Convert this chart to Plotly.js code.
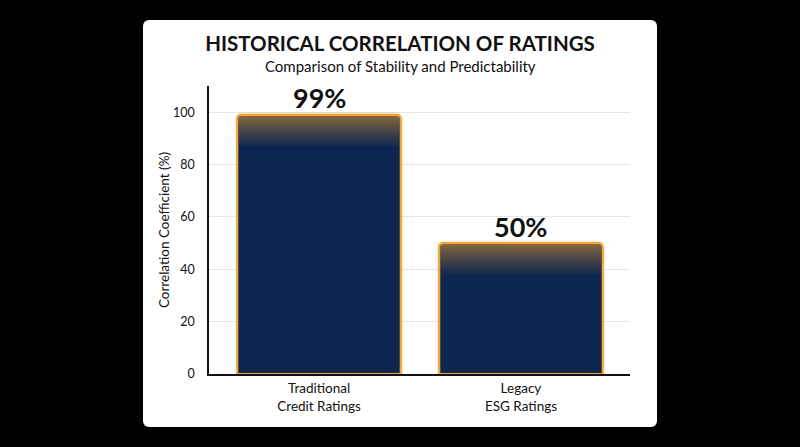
<!DOCTYPE html>
<html>
<head>
<meta charset="utf-8">
<script src="https://cdn.plot.ly/plotly-3.0.1.min.js"></script>
<style>
  html, body { margin: 0; padding: 0; background: #000; }
  #wrap { position: relative; width: 800px; height: 447px; background: #000; overflow: hidden; }
  #card { position: absolute; left: 143px; top: 20px; width: 514px; height: 407px; background: #fff; border-radius: 6px; }
  #chart { position: absolute; left: 0; top: 0; width: 800px; height: 447px; }
</style>
</head>
<body>
<div id="wrap">
  <div id="card"></div>
  <div id="chart"></div>
</div>
<script>
// Werte
const kategorien = ["Traditional<br>Credit Ratings", "Legacy<br>ESG Ratings"];
const werte = [99, 50];
const beschriftungen = ["99%", "50%"];
const yTicks = [0, 20, 40, 60, 80, 100];

const balkenBreite = 0.81;
const navy = "#0c274f";
const orange = "#f2a33a";
const font = "Lato, 'Open Sans', sans-serif";
const xPos = werte.map((_, i) => i);

// äußerer weicher Schein
const schein = {
  type: "bar",
  x: xPos,
  y: werte,
  width: balkenBreite,
  marker: {
    color: "rgba(0,0,0,0)",
    line: { color: "rgba(242,163,58,0.18)", width: 5 },
    cornerradius: 5,
  },
  hoverinfo: "skip",
  showlegend: false,
};

const balken = {
  type: "bar",
  x: xPos,
  y: werte,
  width: balkenBreite,
  marker: {
    color: navy,
    line: { color: orange, width: 2.2 },
    cornerradius: 4,
  },
  hoverinfo: "x+y",
  showlegend: false,
};

// oranger Verlauf oben im Balken
const verlauf = werte.map((v, i) => {
  const x0 = i - balkenBreite / 2 + 0.006;
  const x1 = i + balkenBreite / 2 - 0.006;
  const oben = v - 0.45;
  const unten = v - 12.5;
  return {
    type: "scatter",
    x: [x0, x1, x1, x0, x0],
    y: [unten, unten, oben, oben, unten],
    mode: "none",
    fill: "toself",
    fillgradient: {
      type: "vertical",
      start: unten,
      stop: oben,
      colorscale: [
        [0, "rgba(215,145,50,0)"],
        [0.5, "rgba(215,145,50,0.27)"],
        [1, "rgba(220,148,50,0.58)"],
      ],
    },
    hoverinfo: "skip",
    showlegend: false,
  };
});

// Wertbeschriftungen über den Balken
const wertLabels = werte.map((v, i) => ({
  text: "<b>" + beschriftungen[i] + "</b>",
  x: i,
  y: v,
  xref: "x",
  yref: "y",
  yanchor: "middle",
  yshift: 17,
  showarrow: false,
  font: { family: font, size: 27, color: "#111" },
}));

const layout = {
  width: 800,
  height: 447,
  title: {
    text: "<b>HISTORICAL CORRELATION OF RATINGS</b>",
    font: { family: font, size: 20.5, color: "#111" },
    x: 0.5,
    xanchor: "center",
    y: 1 - 44 / 447,
    yanchor: "middle",
    yref: "container",
  },
  annotations: [
    {
      text: "Comparison of Stability and Predictability",
      xref: "paper",
      yref: "paper",
      x: (400 - 209) / 421,
      y: (374 - 66) / 288,
      xanchor: "center",
      yanchor: "middle",
      showarrow: false,
      font: { family: font, size: 15, color: "#111" },
    },
    ...wertLabels,
  ],
  xaxis: {
    range: [-0.545, 1.54],
    tickvals: xPos,
    ticktext: kategorien,
    tickfont: { family: font, size: 13.5, color: "#111" },
    showgrid: false,
    zeroline: false,
    showline: true,
    linecolor: "#111",
    linewidth: 1.5,
    ticks: "",
    ticklabelstandoff: 1,
    fixedrange: true,
  },
  yaxis: {
    range: [0, 110],
    tickvals: yTicks,
    tickfont: { family: font, size: 12.5, color: "#111" },
    ticklabelstandoff: 10,
    title: {
      text: "Correlation Coefficient (%)",
      font: { family: font, size: 13.5, color: "#111" },
      standoff: 0,
    },
    showgrid: true,
    gridcolor: "#e6e6e6",
    gridwidth: 1,
    zeroline: false,
    showline: true,
    linecolor: "#111",
    linewidth: 1.5,
    ticks: "",
    fixedrange: true,
  },
  barmode: "overlay",
  margin: { t: 86, r: 170, b: 73, l: 209 },
  paper_bgcolor: "rgba(0,0,0,0)",
  plot_bgcolor: "rgba(0,0,0,0)",
  font: { family: font },
};

const config = {
  displayModeBar: false,
  staticPlot: false,
  responsive: false,
};

Plotly.newPlot("chart", [schein, balken, ...verlauf], layout, config);
</script>
</body>
</html>
